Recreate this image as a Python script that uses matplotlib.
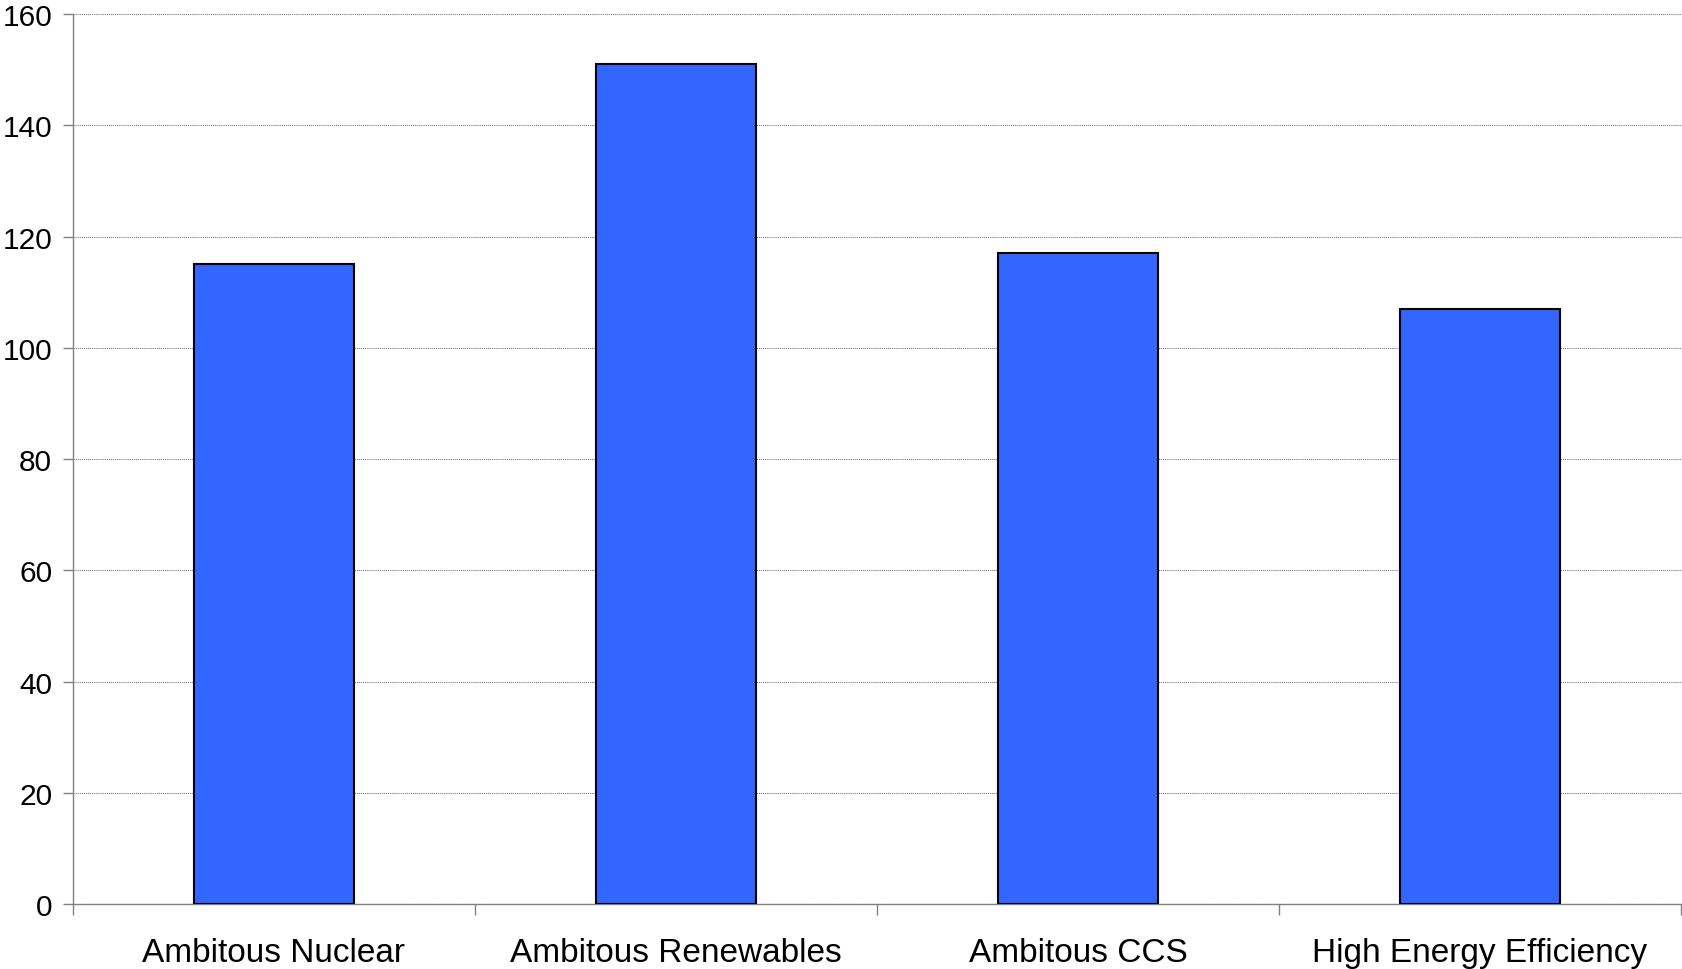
import numpy as np
import matplotlib.pyplot as plt

plt.rcParams['font.family'] = ['Liberation Sans', 'DejaVu Sans']

# Scenario values
scenarios = ['Ambitous Nuclear', 'Ambitous Renewables', 'Ambitous CCS', 'High Energy Efficiency']
values = [115, 151, 117, 107]
y_ticks = [0, 20, 40, 60, 80, 100, 120, 140, 160]

fig = plt.figure(figsize=(16.82, 9.70), dpi=100)
ax = fig.add_axes([0.0434, 0.067, 0.9560, 0.9175])

x = np.arange(len(scenarios))
ax.bar(x, values, width=0.4, color='#3366FF', edgecolor='black', linewidth=1.5, zorder=3)

ax.set_xlim(-0.5, len(scenarios) - 0.5)
ax.set_ylim(0, 160)
ax.set_yticks(y_ticks)
ax.yaxis.grid(True, color='#707070', linewidth=0.75, linestyle=(0, (1, 1)), zorder=0)

# category ticks sit between the bars
ax.set_xticks(np.arange(len(scenarios) + 1) - 0.5)
ax.set_xticklabels([])
ax.set_xticks(x, minor=True)
ax.set_xticklabels(scenarios, minor=True, fontsize=24)
ax.tick_params(axis='x', which='minor', length=0, pad=24)
ax.tick_params(axis='x', which='major', length=8, width=1, color='#808080', direction='out')
ax.tick_params(axis='y', length=7, width=1, color='#808080', labelsize=21.5, pad=8)

for side in ['top', 'right']:
    ax.spines[side].set_visible(False)
for side in ['left', 'bottom']:
    ax.spines[side].set_color('#808080')
    ax.spines[side].set_linewidth(1)

fig.savefig('out.png', dpi=100)
